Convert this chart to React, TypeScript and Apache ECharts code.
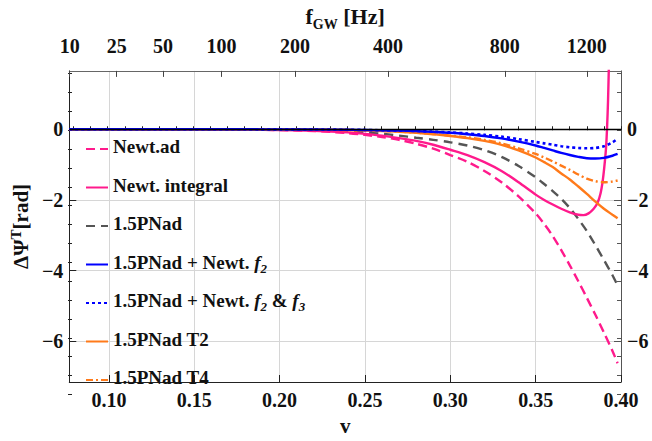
import React, { useEffect, useRef } from 'react';
import * as echarts from 'echarts';

// ---- data ----
const V = [0.0768, 0.10, 0.13, 0.16, 0.18, 0.20, 0.22, 0.24, 0.25, 0.26, 0.27, 0.28, 0.29, 0.30, 0.31, 0.32, 0.33, 0.34, 0.35, 0.355, 0.36, 0.365, 0.37, 0.375, 0.38, 0.385, 0.39, 0.395, 0.398];
const newtAd = [0, 0, -0.002, -0.006, -0.012, -0.025, -0.05, -0.11, -0.16, -0.22, -0.30, -0.41, -0.55, -0.73, -0.92, -1.18, -1.5, -1.9, -2.38, -2.68, -3.02, -3.42, -3.85, -4.3, -4.77, -5.25, -5.75, -6.27, -6.62];
const pn15ad = [0, 0, 0, -0.002, -0.005, -0.01, -0.02, -0.06, -0.09, -0.13, -0.18, -0.24, -0.3, -0.37, -0.46, -0.59, -0.78, -1.04, -1.36, -1.55, -1.75, -1.97, -2.23, -2.54, -2.88, -3.28, -3.7, -4.13, -4.42];
const pnNewtF2 = [0, 0, 0, 0, -0.002, -0.004, -0.008, -0.015, -0.02, -0.03, -0.04, -0.055, -0.075, -0.1, -0.14, -0.19, -0.26, -0.35, -0.46, -0.53, -0.6, -0.67, -0.73, -0.78, -0.82, -0.83, -0.81, -0.75, -0.7];
const pnNewtF2F3 = [0, 0, 0, 0, -0.002, -0.004, -0.008, -0.015, -0.02, -0.03, -0.04, -0.05, -0.07, -0.09, -0.12, -0.16, -0.21, -0.28, -0.36, -0.4, -0.44, -0.48, -0.51, -0.53, -0.54, -0.53, -0.48, -0.37, -0.27];
const pnT2 = [0, 0, 0, -0.001, -0.003, -0.006, -0.012, -0.022, -0.035, -0.05, -0.07, -0.1, -0.14, -0.19, -0.25, -0.33, -0.44, -0.6, -0.8, -0.93, -1.07, -1.25, -1.42, -1.62, -1.83, -2.05, -2.25, -2.42, -2.52];
const pnT4 = [0, 0, 0, -0.001, -0.003, -0.006, -0.012, -0.022, -0.034, -0.048, -0.068, -0.097, -0.135, -0.18, -0.23, -0.3, -0.4, -0.54, -0.7, -0.8, -0.91, -1.03, -1.15, -1.28, -1.4, -1.47, -1.5, -1.48, -1.45];

const V_INT = [0.0768, 0.10, 0.13, 0.16, 0.18, 0.20, 0.22, 0.24, 0.25, 0.26, 0.27, 0.28, 0.29, 0.30, 0.31, 0.32, 0.33, 0.34, 0.35, 0.355, 0.36, 0.365, 0.37, 0.375, 0.378, 0.381, 0.384, 0.3863, 0.388, 0.3892, 0.3902, 0.3912, 0.3918, 0.3924, 0.3929, 0.3935];
const newtIntegral = [0, 0, -0.002, -0.005, -0.01, -0.02, -0.045, -0.09, -0.13, -0.18, -0.25, -0.33, -0.44, -0.58, -0.73, -0.93, -1.18, -1.5, -1.85, -2.0, -2.13, -2.25, -2.35, -2.42, -2.43, -2.38, -2.25, -2.08, -1.82, -1.49, -1.08, -0.55, 0, 0.8, 1.8, 3.0];

const bottomTickLabels = [0.10, 0.15, 0.20, 0.25, 0.30, 0.35, 0.40];
const yTickLabels = [-6, -4, -2, 0];
const freqTickLabels = [10, 25, 50, 100, 200, 400, 800, 1200];
const F_PER_V3 = 21880; // f_GW [Hz] = F_PER_V3 * v^3

const X_MIN = 0.0768;
const X_MAX = 0.40;
const Y_MIN = -7.15;
const Y_MAX = 1.65;

const FONT = "'Liberation Serif', 'Times New Roman', serif";
const PINK = '#ff1a8c';
const GRAY = '#555555';
const BLUE = '#0000ff';
const ORANGE = '#ff7a1a';

const fToV = (f: number) => Math.cbrt(f / F_PER_V3);

export default function App() {
  const ref = useRef<HTMLDivElement>(null);

  useEffect(() => {
    document.body.style.margin = '0';
    const chart = echarts.init(ref.current!, null, { renderer: 'svg' });

    const minorX: number[] = [];
    for (let i = 8; i <= 40; i++) minorX.push(+(i / 100).toFixed(2));
    const minorY: number[] = [];
    for (let i = -14; i <= 3; i++) minorY.push(i / 2);
    const freqV = freqTickLabels.map(fToV);

    const labelStyle = {
      fontFamily: FONT,
      fontWeight: 'bold' as const,
      fontSize: 20,
      color: '#111',
    };
    const gridBox = { left: 68, right: 31, top: 68, bottom: 41 };

    const mk = (name: string, xs: number[], ys: number[], color: string, type: any, width: number, z: number) => ({
      type: 'line',
      name,
      xAxisIndex: 0,
      yAxisIndex: 0,
      data: xs.map((x, i) => [x, ys[i]]),
      showSymbol: false,
      symbol: 'none',
      smooth: 0.3,
      clip: true,
      z,
      lineStyle: { color, width, type },
      itemStyle: { color },
    });

    const yMinus = (v: number) => (v < 0 ? '\u2212' + Math.abs(v) : String(v));

    const legendRich = {
      b: { fontFamily: FONT, fontWeight: 'bold', fontSize: 19, color: '#111', lineHeight: 20, verticalAlign: 'bottom', padding: [0, 0, 3, 0] },
      i: { fontFamily: FONT, fontWeight: 'bold', fontStyle: 'italic', fontSize: 19, color: '#111', lineHeight: 20, verticalAlign: 'bottom', padding: [0, 0, 3, 0] },
      s: { fontFamily: FONT, fontWeight: 'bold', fontStyle: 'italic', fontSize: 13, color: '#111', lineHeight: 14, verticalAlign: 'bottom', padding: [0, 0, 0, 0] },
    };

    const option: any = {
      animation: false,
      backgroundColor: '#ffffff',
      grid: [{ ...gridBox }, { ...gridBox }],
      legend: {
        orient: 'vertical',
        left: 80,
        top: 132,
        itemWidth: 22,
        itemHeight: 14,
        itemGap: 16.5,
        itemStyle: { opacity: 0 },
        data: ['Newt.ad', 'Newt. integral', '1.5PNad', '1.5PNad + Newt. f2', '1.5PNad + Newt. f2 & f3', '1.5PNad T2', '1.5PNad T4'],
        formatter: (name: string) => {
          if (name === '1.5PNad + Newt. f2') return '{b|1.5PNad + Newt. }{i|f}{s|2}';
          if (name === '1.5PNad + Newt. f2 & f3') return '{b|1.5PNad + Newt. }{i|f}{s|2}{b| & }{i|f}{s|3}';
          return '{b|' + name + '}';
        },
        textStyle: { rich: legendRich },
      },
      xAxis: [
        {
          gridIndex: 0,
          type: 'value',
          position: 'bottom',
          min: X_MIN,
          max: X_MAX,
          name: 'v',
          nameLocation: 'middle',
          nameGap: 33,
          nameTextStyle: { ...labelStyle, fontSize: 21 },
          axisLine: { show: true, onZero: false, lineStyle: { color: '#222', width: 1 } },
          axisTick: { show: true, inside: true, length: 7, customValues: bottomTickLabels, lineStyle: { color: '#222' } },
          axisLabel: { ...labelStyle, customValues: bottomTickLabels, margin: 8, formatter: (v: number) => v.toFixed(2) },
          splitLine: { show: true, lineStyle: { color: '#d6d6d6', width: 1 } },
        },
        {
          gridIndex: 0,
          type: 'value',
          position: 'top',
          min: X_MIN,
          max: X_MAX,
          name: '{b|f}{s|GW}{b| [Hz]}',
          nameLocation: 'middle',
          nameGap: 33,
          nameTextStyle: {
            rich: {
              b: { fontFamily: FONT, fontWeight: 'bold', fontSize: 22, color: '#111', lineHeight: 24, verticalAlign: 'bottom', padding: [0, 0, 4, 0] },
              s: { fontFamily: FONT, fontWeight: 'bold', fontSize: 14, color: '#111', lineHeight: 15, verticalAlign: 'bottom' },
            },
          },
          axisLine: { show: true, onZero: false, lineStyle: { color: '#666', width: 1 } },
          axisTick: { show: true, inside: true, length: 6, customValues: freqV, lineStyle: { color: '#444' } },
          axisLabel: {
            ...labelStyle,
            customValues: freqV,
            margin: 15,
            formatter: (v: number) => {
              const f = freqTickLabels.find((ff) => Math.abs(fToV(ff) - v) < 1e-6);
              return f === undefined ? '' : String(f);
            },
          },
          splitLine: { show: false },
        },
        {
          gridIndex: 1,
          type: 'value',
          position: 'bottom',
          min: X_MIN,
          max: X_MAX,
          axisLine: { show: false },
          axisTick: { show: true, inside: true, length: 4, customValues: minorX, lineStyle: { color: '#222' } },
          axisLabel: { show: false },
          splitLine: { show: false },
        },
      ],
      yAxis: [
        {
          gridIndex: 0,
          type: 'value',
          position: 'left',
          min: Y_MIN,
          max: Y_MAX,
          name: '{a|\u0394\u03a8}{t|T}{a|[rad]}',
          nameLocation: 'middle',
          nameRotate: 90,
          nameGap: 36,
          nameTextStyle: {
            rich: {
              a: { fontFamily: FONT, fontWeight: 'bold', fontSize: 21, color: '#111', lineHeight: 22, verticalAlign: 'bottom' },
              t: { fontFamily: FONT, fontWeight: 'bold', fontSize: 15, color: '#111', lineHeight: 16, verticalAlign: 'bottom', padding: [0, 0, 8, 0] },
            },
          },
          axisLine: { show: true, onZero: false, lineStyle: { color: '#222', width: 1 } },
          axisTick: { show: true, inside: true, length: 7, customValues: yTickLabels, lineStyle: { color: '#222' } },
          axisLabel: { ...labelStyle, customValues: yTickLabels, margin: 6, formatter: yMinus },
          splitLine: { show: true, lineStyle: { color: '#d6d6d6', width: 1 } },
        },
        {
          gridIndex: 0,
          type: 'value',
          position: 'right',
          min: Y_MIN,
          max: Y_MAX,
          axisLine: { show: true, onZero: false, lineStyle: { color: '#555', width: 1 } },
          axisTick: { show: true, inside: true, length: 7, customValues: yTickLabels, lineStyle: { color: '#555' } },
          axisLabel: { ...labelStyle, customValues: yTickLabels, margin: 6, formatter: yMinus },
          splitLine: { show: false },
        },
        {
          gridIndex: 1,
          type: 'value',
          position: 'left',
          min: Y_MIN,
          max: Y_MAX,
          axisLine: { show: false },
          axisTick: { show: true, inside: true, length: 4, customValues: minorY, lineStyle: { color: '#222' } },
          axisLabel: { show: false },
          splitLine: { show: false },
        },
        {
          gridIndex: 1,
          type: 'value',
          position: 'right',
          min: Y_MIN,
          max: Y_MAX,
          axisLine: { show: false },
          axisTick: { show: true, inside: true, length: 4, customValues: minorY, lineStyle: { color: '#555' } },
          axisLabel: { show: false },
          splitLine: { show: false },
        },
      ],
      series: [
        {
          ...mk('Newt.ad', V, newtAd, PINK, [9, 5], 2.4, 3),
          markLine: {
            silent: true,
            symbol: ['none', 'none'],
            label: { show: false },
            lineStyle: { color: '#000', width: 1.3, type: 'solid' },
            data: [{ yAxis: 0 }],
            z: 10,
          },
        },
        mk('Newt. integral', V_INT, newtIntegral, PINK, 'solid', 2.4, 4),
        mk('1.5PNad', V, pn15ad, GRAY, [9, 6], 2.4, 3),
        mk('1.5PNad + Newt. f2', V, pnNewtF2, BLUE, 'solid', 2.4, 5),
        mk('1.5PNad + Newt. f2 & f3', V, pnNewtF2F3, BLUE, [3, 3], 2.6, 5),
        mk('1.5PNad T2', V, pnT2, ORANGE, 'solid', 2.4, 4),
        mk('1.5PNad T4', V, pnT4, ORANGE, [7, 3, 2, 3], 2.4, 4),
      ],
    };

    chart.setOption(option);
    return () => chart.dispose();
  }, []);

  return <div ref={ref} style={{ position: 'absolute', left: 0, top: 0, width: 652, height: 441 }} />;
}
